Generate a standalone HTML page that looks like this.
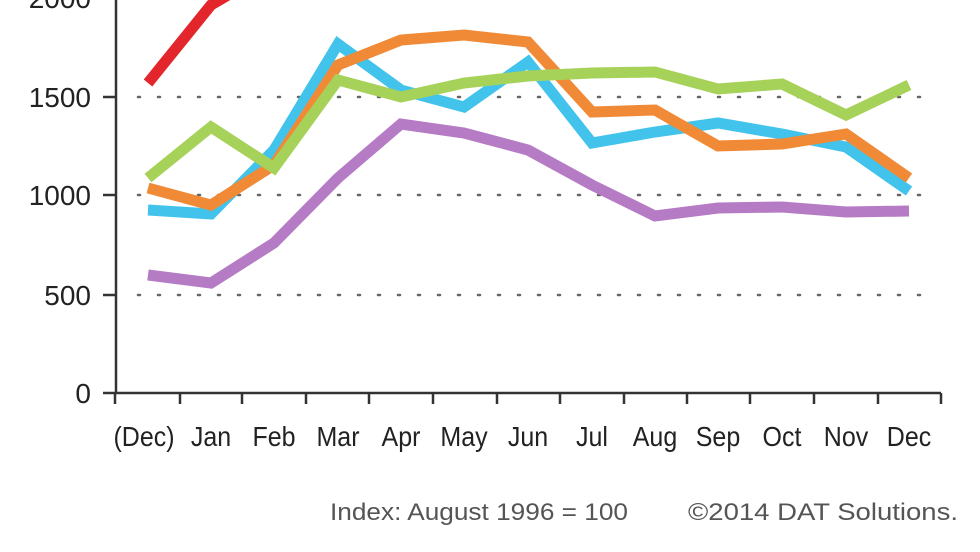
<!DOCTYPE html>
<html><head><meta charset="utf-8"><style>
html,body{margin:0;padding:0;background:#fff;}
svg{display:block;}
text{font-family:"Liberation Sans",sans-serif;}
</style></head><body>
<svg width="980" height="552" viewBox="0 0 980 552" xmlns="http://www.w3.org/2000/svg">
<g stroke="#666" stroke-width="2.5" stroke-dasharray="2 18" stroke-linecap="round">
<line x1="138" y1="97" x2="935" y2="97"/>
<line x1="138" y1="195" x2="935" y2="195"/>
<line x1="138" y1="295" x2="935" y2="295"/>
</g>
<g stroke="#333" stroke-width="2.5" fill="none">
<line x1="116" y1="0" x2="116" y2="393"/>
<line x1="103" y1="393" x2="941" y2="393"/>
<line x1="103" y1="97" x2="116" y2="97"/>
<line x1="103" y1="195" x2="116" y2="195"/>
<line x1="103" y1="295" x2="116" y2="295"/>
<path d="M115 393v11M180 393v11M242 393v11M306 393v11M369 393v11M433 393v11M497 393v11M560 393v11M624 393v11M687 393v11M750 393v11M814 393v11M878 393v11M941 393v11"/>
</g>
<g font-size="28" fill="#222" text-anchor="end">
<text x="91" y="8">2000</text>
<text x="91" y="107">1500</text>
<text x="91" y="205">1000</text>
<text x="91" y="305">500</text>
<text x="91" y="403">0</text>
</g>
<g font-size="25" fill="#222" text-anchor="middle" transform="translate(0,446) scale(1,1.12)">
<text x="144" y="0">(Dec)</text>
<text x="211" y="0">Jan</text>
<text x="274" y="0">Feb</text>
<text x="338" y="0">Mar</text>
<text x="401" y="0">Apr</text>
<text x="464" y="0">May</text>
<text x="528" y="0">Jun</text>
<text x="592" y="0">Jul</text>
<text x="655" y="0">Aug</text>
<text x="718" y="0">Sep</text>
<text x="782" y="0">Oct</text>
<text x="846" y="0">Nov</text>
<text x="909" y="0">Dec</text>
</g>
<g font-size="24" fill="#555">
<text x="330" y="520" textLength="298" lengthAdjust="spacingAndGlyphs">Index: August  1996 = 100</text>
<text x="688" y="520" textLength="270" lengthAdjust="spacingAndGlyphs">©2014 DAT Solutions.</text>
</g>
<g fill="none" stroke-width="11" stroke-linejoin="miter" stroke-linecap="butt">
<polyline stroke="#e3262b" points="148,83 211,5 240,-12"/>
<polyline stroke="#b57bc4" points="148,275 211,283 274,243 338,178 401,124 464,133 528,150 592,185 655,216 718,208 782,207 846,212 909,211"/>
<polyline stroke="#42c3ec" points="148,210 211,214 274,150 338,44 401,90 464,107 528,62 592,143 655,132 718,123 782,134 846,147 909,191"/>
<polyline stroke="#f08a36" points="148,188 211,205 274,165 338,65 401,40 464,35 528,42 592,112 655,110 718,146 782,144 846,134 909,178"/>
<polyline stroke="#a6d25a" points="148,178 211,127 274,168 338,80 401,97 464,83 528,76 592,73 655,72 718,89 782,84 846,115 909,85"/>
</g>
</svg>
</body></html>
